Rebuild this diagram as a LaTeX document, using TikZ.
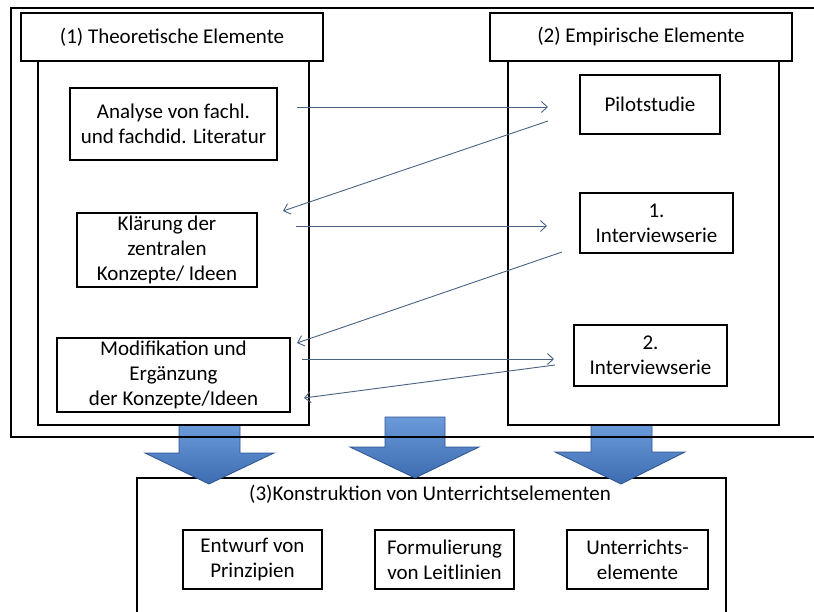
\documentclass[tikz,border=0pt]{standalone}
\usepackage{fontspec}
\setmainfont{Carlito}
\usetikzlibrary{arrows.meta,calc}
\definecolor{arr}{HTML}{4A6283}
\definecolor{bluetop}{HTML}{6C9BDA}
\definecolor{bluebot}{HTML}{3C6BB0}
\definecolor{blueedge}{HTML}{2E5390}
\begin{document}
\begin{tikzpicture}[x=1pt,y=-1pt,
  txt/.style={font=\fontsize{21}{25}\selectfont},
  box/.style={txt, draw=black, line width=2pt, inner sep=0pt, outer sep=0pt, align=center},
  headbox/.style={txt, draw=black, line width=1.3pt, inner sep=0pt, outer sep=0pt, align=center, fill=white},
  colbox/.style={draw=black, line width=2pt, inner sep=0pt, outer sep=0pt},
  link/.style={draw=arr, line width=0.9pt, -{Straight Barb[length=6pt,width=11pt]}},
  blockarrow/.style={top color=bluetop, bottom color=bluebot, draw=blueedge, line width=0.8pt}]
\clip (0,0) rectangle (814,612);
\fill[white] (0,0) rectangle (814,612);

% bottom box (3), cut off at the lower edge
\node[colbox, minimum width=589pt, minimum height=222pt] (k3) at (431.5,589) {};
\node[txt, inner sep=0pt] (t3) at (430,494) {(3)Konstruktion von Unterrichtselementen};
\node[box, minimum width=139pt, minimum height=59pt] (ent) at (252.5,559.5) {Entwurf von\\Prinzipien};
\node[box, minimum width=139pt, minimum height=59pt] (for) at (444.5,559.5) {Formulierung\\von Leitlinien};
\node[box, minimum width=141pt, minimum height=59pt] (unt) at (637.5,559.5) {Unterrichts-\\elemente};

% block arrows
\path[blockarrow] (179,425) -- (240,425) -- (240,453) -- (274,453) -- (209,484) -- (145,453) -- (179,453) -- cycle;
\path[blockarrow] (385,417) -- (445,417) -- (445,447) -- (479,447) -- (415,478) -- (350,447) -- (385,447) -- cycle;
\path[blockarrow] (591,425) -- (652,425) -- (652,452) -- (685,452) -- (621,484) -- (555,452) -- (591,452) -- cycle;

% outer frame, cut off at the right edge
\node[colbox, line width=2.5pt, minimum width=889pt, minimum height=429pt] (outer) at (455.5,222.5) {};

% column (1)
\node[colbox, minimum width=271pt, minimum height=364pt] (col1) at (173.5,243) {};
\node[headbox, minimum width=302pt, minimum height=48pt] (h1) at (172,37) {(1) Theoretische Elemente};
\node[box, minimum width=207pt, minimum height=72pt] (ana) at (173.5,124) {Analyse von fachl.\\und fachdid. Literatur};
\node[box, minimum width=180pt, minimum height=74pt] (kla) at (167,250) {Klärung der\\zentralen\\Konzepte/ Ideen};
\node[box, minimum width=233pt, minimum height=74pt] (mod) at (173.5,375) {Modifikation und\\Ergänzung\\der Konzepte/Ideen};

% column (2)
\node[colbox, minimum width=271pt, minimum height=364pt] (col2) at (643.5,243) {};
\node[headbox, minimum width=302pt, minimum height=48pt] (h2) at (641,37) {(2) Empirische Elemente};
\node[box, minimum width=140pt, minimum height=59pt] (pil) at (650,104.5) {Pilotstudie};
\node[box, minimum width=153pt, minimum height=60pt] (i1) at (656.5,223) {1.\\Interviewserie};
\node[box, minimum width=153pt, minimum height=61pt] (i2) at (650.5,355.5) {2.\\Interviewserie};

% connectors
\draw[link] ($(ana.east)+(20,-17)$) -- ($(pil.west)+(-32,2.5)$);
\draw[link] ($(pil.west)+(-32,16.5)$) -- ($(kla.north east)+(26,-2)$);
\draw[link] ($(kla.east)+(39,-24)$) -- ($(i1.west)+(-33,3)$);
\draw[link] ($(i1.south west)+(-18,-1)$) -- ($(mod.north east)+(7,5)$);
\draw[link] ($(mod.east)+(12,-16)$) -- ($(i2.west)+(-20,3.5)$);
\draw[link] ($(i2.west)+(-19,9.5)$) -- ($(mod.east)+(14,23)$);
\end{tikzpicture}
\end{document}
